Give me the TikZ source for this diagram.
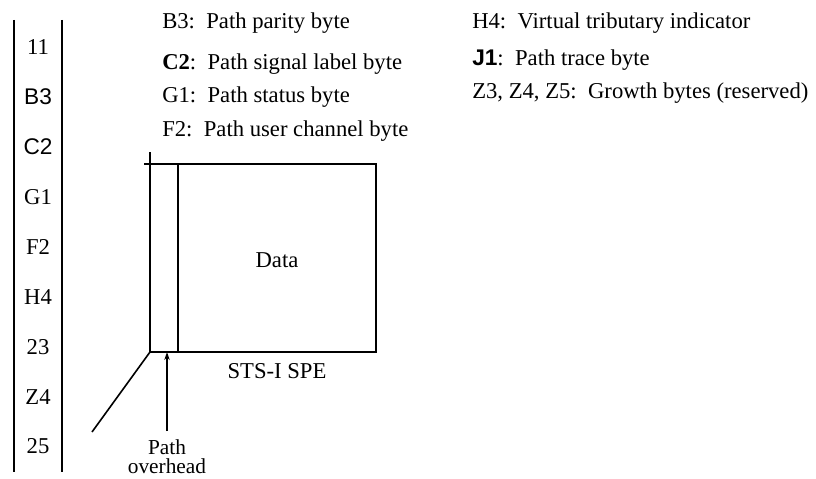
\documentclass[tikz,border=0pt]{standalone}
\usepackage{fontspec}
\setmainfont{Liberation Serif}
\newfontfamily\arialfont{Liberation Sans}
\usetikzlibrary{arrows.meta,positioning}

\begin{document}
\begin{tikzpicture}[x=0.75pt,y=-0.75pt,font=\fontsize{17}{19}\selectfont,
  rule/.style={line width=1.5pt},
  legend/.style={anchor=west,inner sep=0pt}]
  \useasboundingbox (0,0) rectangle (816,478);

  % column of path overhead bytes
  \draw[rule] (14,20) -- (14,472);
  \draw[rule] (62,20) -- (62,472);
  \node (r1) at (38,47) {11};
  \node (r2) at (38,97) {\arialfont B3};
  \node (r3) at (38,147) {\arialfont C2};
  \node (r4) at (38,197) {G1};
  \node (r5) at (38,247) {F2};
  \node (r6) at (38,297) {H4};
  \node (r7) at (38,347) {23};
  \node (r8) at (38,397) {Z4};
  \node (r9) at (38,446) {25};

  % legend
  \node[legend] (lB3) at (162,23) {B3:\ \ Path parity byte};
  \node[legend] (lC2) at (162,64) {\textbf{C2}:\ \ Path signal label byte};
  \node[legend] (lG1) at (162,97) {G1:\ \ Path status byte};
  \node[legend] (lF2) at (162,131) {F2:\ \ Path user channel byte};
  \node[legend] (lH4) at (472,23) {H4:\ \ Virtual tributary indicator};
  \node[legend] (lJ1) at (472,60) {{\arialfont\bfseries J1}:\ \ Path trace byte};
  \node[legend] (lZ3) at (472,93) {Z3, Z4, Z5:\ \ Growth bytes (reserved)};

  % STS-1 SPE frame
  \coordinate (ohtop) at (150,152);
  \coordinate (ohbot) at (150,352);
  \coordinate (dtop) at (178,164);
  \coordinate (dbot) at (178,351);
  \coordinate (tl) at (144,164);
  \coordinate (tr) at (376,164);
  \coordinate (br) at (376,352);
  \draw[rule] (ohtop) -- (ohbot) -- (br) -- (tr) -- (tl);
  \draw[line width=2pt] (dtop) -- (dbot);
  \node (data) at (277,260) {Data};
  \node (spe) at (277,371) {STS-I SPE};

  \coordinate (slant) at (92,432);
  \draw[line width=1.2pt] (slant) -- (ohbot);

  \node[inner sep=0pt,font=\fontsize{16}{18}\selectfont] (poh) at (167,447) {Path};
  \node[inner sep=0pt,font=\fontsize{16}{18}\selectfont,below=3pt of poh] (pohb) {overhead};
  \draw[line width=1pt,-{Stealth[length=6pt,width=4pt]}] (poh.north) ++(0,6pt) coordinate (pfoot) -- (pfoot |- ohbot);
\end{tikzpicture}
\end{document}
